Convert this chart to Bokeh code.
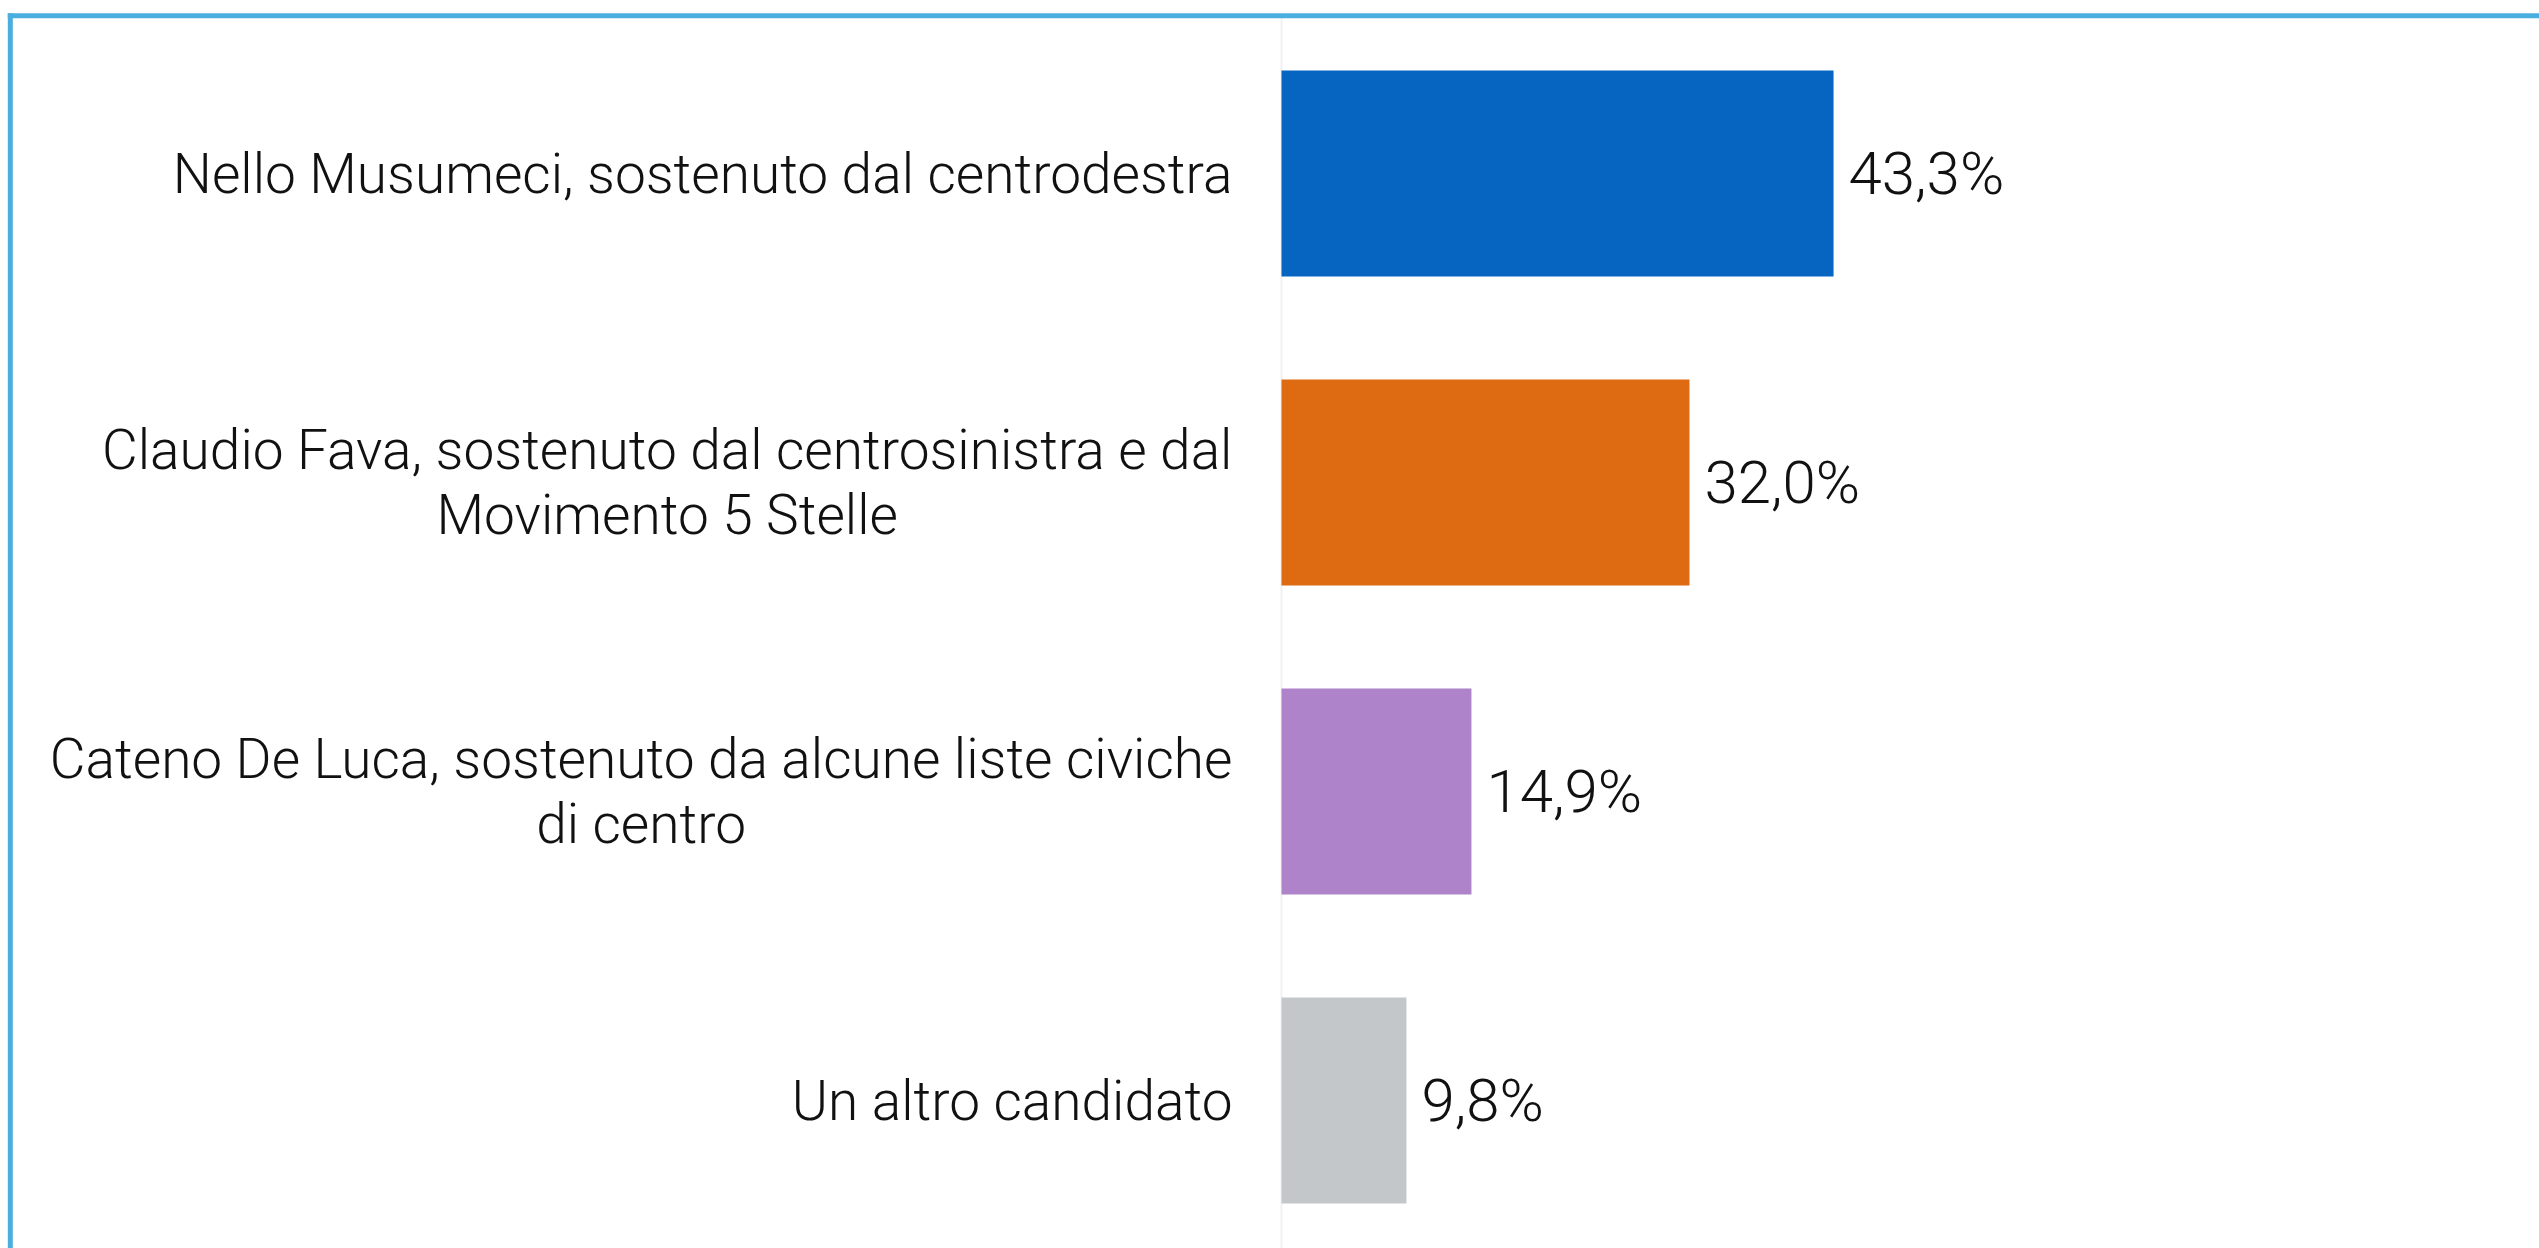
from bokeh.plotting import figure
from bokeh.models import ColumnDataSource, LabelSet, Label, BoxAnnotation, FactorRange, Range1d
from bokeh.core.properties import value
from bokeh.transform import dodge
from bokeh.embed import file_html
from bokeh.resources import INLINE

# ---- data ----
candidates = [
    "Nello Musumeci, sostenuto dal centrodestra",
    "Claudio Fava, sostenuto dal centrosinistra e dal\nMovimento 5 Stelle",
    "Cateno De Luca, sostenuto da alcune liste civiche\ndi centro",
    "Un altro candidato",
]
shares = [43.3, 32.0, 14.9, 9.8]
bar_colors = ["#0565C0", "#DE6A11", "#AE83C9", "#C4C7CA"]
value_labels = [f"{v:.1f}".replace(".", ",") + "%" for v in shares]

FONT = "Roboto Light"
LABEL_SIZE = "55px"
VALUE_SIZE = "60px"
BORDER = "#4AAEDE"
W, H = 2539, 1248
SHIFT = -0.0405  # small downward nudge of the category bands

src = ColumnDataSource(dict(cat=candidates, share=shares, color=bar_colors, vlabel=value_labels))

yr = FactorRange(factors=list(reversed(candidates)), range_padding=0.0194, range_padding_units="absolute")
p = figure(
    width=W, height=H,
    output_backend="svg", toolbar_location=None,
    y_range=yr,
    x_range=Range1d(-100.47, 98.67),
    min_border_left=0, min_border_right=0, min_border_top=0, min_border_bottom=0,
)
p.background_fill_color = "white"
p.border_fill_color = "white"
p.outline_line_color = None
p.xaxis.visible = False
p.yaxis.visible = False
p.grid.visible = False

# baseline (zero) line, starting just below the panel's top edge
p.add_layout(BoxAnnotation(
    left=0, right=0, top=17.7, bottom=H,
    top_units="canvas", bottom_units="canvas",
    fill_alpha=0, line_color="#d2d2d2", line_width=2, level="underlay",
))

ycat = dodge("cat", SHIFT, range=yr)
p.hbar(y=ycat, left=0, right="share", height=0.667, fill_color="color", line_color=None, source=src)

p.add_layout(LabelSet(
    x="share", y=ycat, text="vlabel", source=src,
    x_offset=15, text_align="left", text_baseline="middle",
    text_font=value(FONT), text_font_size=VALUE_SIZE, text_color="#111111",
))

has_anchor = "anchor" in Label.properties()
for c in candidates:
    ysyn = yr.factors.index(c) + 0.5 + SHIFT  # synthetic coordinate of the factor centre
    kw = dict(
        x=0, y=ysyn, text=c, x_offset=-49, text_baseline="middle",
        text_font=FONT, text_font_size=LABEL_SIZE, text_color="#111111",
        text_line_height=1.03,
    )
    if has_anchor:
        kw.update(anchor="center_right", text_align="center")
    else:
        kw.update(text_align="right")
    p.add_layout(Label(**kw))

# blue panel edges (top and left sides of the box)
for l, r, t, b in [(7.3, W, 12.7, 17.7), (7.3, 12.3, 12.7, H)]:
    p.add_layout(BoxAnnotation(
        left=l, right=r, top=t, bottom=b,
        left_units="canvas", right_units="canvas", top_units="canvas", bottom_units="canvas",
        fill_color=BORDER, fill_alpha=1.0, line_color=None,
    ))

open("out.html", "w").write(file_html(p, INLINE))
